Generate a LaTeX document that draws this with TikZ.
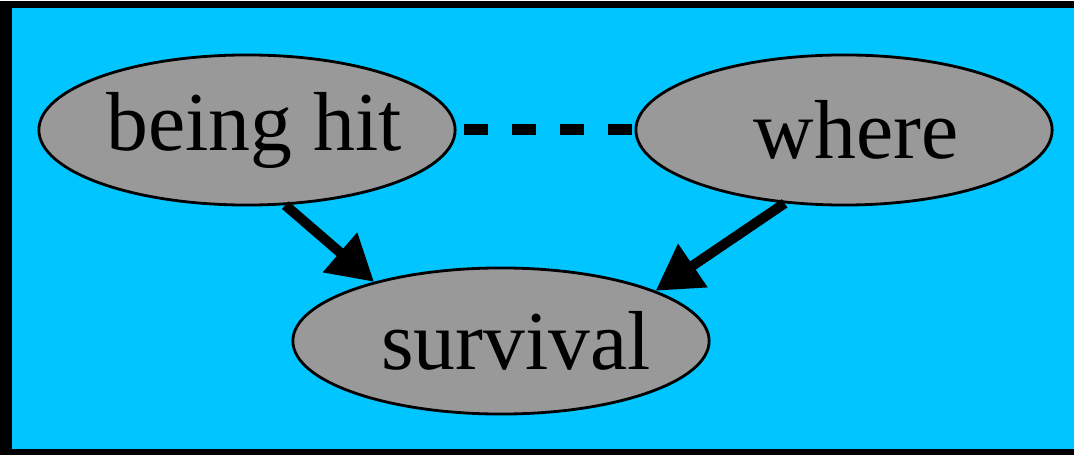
\documentclass[tikz,border=0pt]{standalone}
\usepackage{fontspec}
\setmainfont{Liberation Serif}
\usetikzlibrary{shapes.geometric,arrows.meta}
\definecolor{skyfill}{RGB}{0,197,255}
\definecolor{nodegray}{RGB}{153,153,153}
\tikzset{
	varnode/.style={ellipse, draw=black, thick, fill=nodegray, inner sep=0pt,
		minimum width=4.16cm, minimum height=1.5cm, font=\fontsize{23.8}{28}\selectfont},
	causal/.style={line width=0.1cm, -{Triangle[length=0.45cm,width=0.5cm]}},
	linked/.style={line width=0.11cm, dash pattern=on 0.24cm off 0.24cm}
}
\begin{document}
\begin{tikzpicture}[x=0.01cm,y=-0.01cm]

		\useasboundingbox (0,0) rectangle (1074,455);
		\fill[black] (0,1) rectangle (1074,455);
		\fill[skyfill] (12,8) rectangle (1074,449);
		
		\node (hit) at (247,130) [varnode] {\makebox[0pt]{\hspace*{0.14cm}being hit}};
		\node (where) at (844,130) [varnode] {\makebox[0pt]{\hspace*{0.24cm}where}};
		\node (surv) at (501,341) [varnode, minimum height=1.46cm] {\makebox[0pt]{\hspace*{0.3cm}survival}};
		
		\draw[linked] (hit.east) ++(0.07cm,0) -- (where.west);
		\draw[causal] (hit.-63) -- (surv.155);
		\draw[causal] (where.-129) -- (surv.18);
		
	\end{tikzpicture}
\end{document}
